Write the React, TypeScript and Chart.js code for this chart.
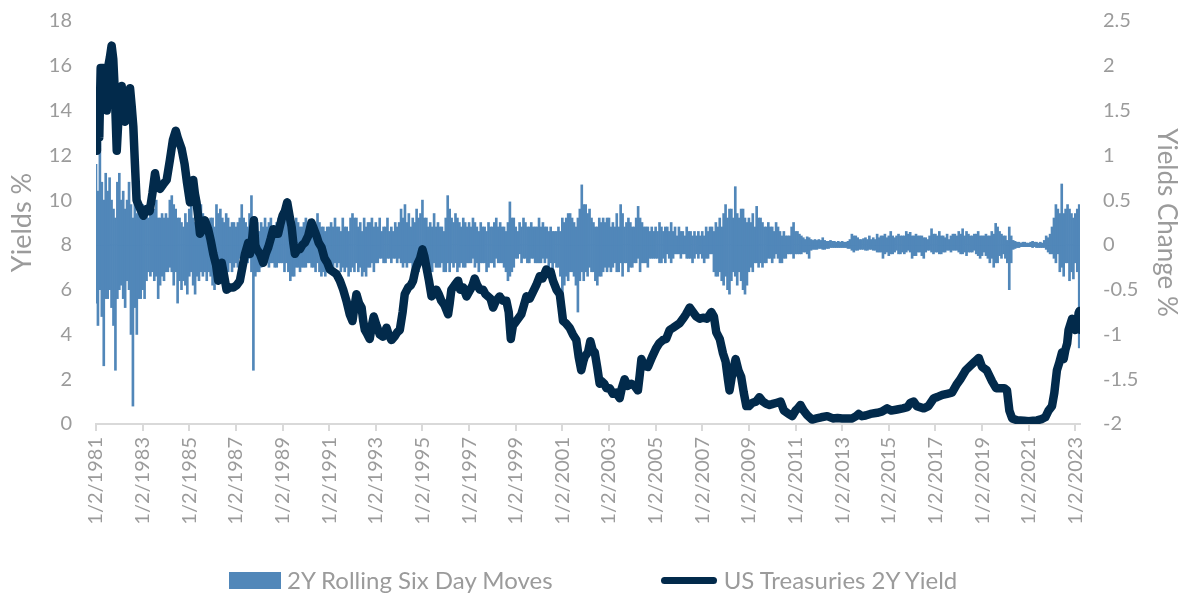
import React, { useEffect, useRef } from "react";
import { Chart, registerables } from "chart.js";

Chart.register(...registerables);

// X axis tick labels (category dates shown every two years)
const xTickLabels = [
  "1/2/1981", "1/2/1983", "1/2/1985", "1/2/1987", "1/2/1989", "1/2/1991",
  "1/2/1993", "1/2/1995", "1/2/1997", "1/2/1999", "1/2/2001", "1/2/2003",
  "1/2/2005", "1/2/2007", "1/2/2009", "1/2/2011", "1/2/2013", "1/2/2015",
  "1/2/2017", "1/2/2019", "1/2/2021", "1/2/2023",
];

// US Treasuries 2Y yield (%), dates as decimal years
const yieldDates = [
  1981.00,1981.04,1981.10,1981.14,1981.20,1981.31,1981.38,1981.46,1981.53,1981.60,1981.67,1981.74,1981.80,1981.89,1981.96,
  1982.03,1982.10,1982.17,1982.24,1982.31,1982.38,1982.46,1982.53,1982.60,1982.67,1982.74,1982.82,1982.90,
  1983.03,1983.15,1983.30,1983.42,1983.53,1983.63,1983.74,1983.88,
  1984.03,1984.17,1984.30,1984.42,1984.50,1984.60,1984.67,1984.80,1984.90,
  1985.03,1985.10,1985.17,1985.24,1985.31,1985.39,1985.46,1985.57,1985.67,1985.81,1985.92,
  1986.03,1986.15,1986.24,1986.32,1986.39,1986.50,1986.60,1986.75,1986.89,
  1987.03,1987.17,1987.28,1987.39,1987.53,1987.60,1987.70,1987.77,1987.83,1987.90,
  1988.03,1988.17,1988.28,1988.39,1988.50,1988.60,1988.70,1988.81,1988.90,
  1989.00,1989.10,1989.20,1989.30,1989.39,1989.46,1989.53,1989.64,1989.74,1989.85,1989.96,
  1990.10,1990.24,1990.35,1990.46,1990.55,1990.67,1990.80,1990.92,
  1991.03,1991.17,1991.31,1991.46,1991.60,1991.74,1991.88,
  1992.00,1992.08,1992.17,1992.28,1992.39,1992.46,1992.53,1992.64,1992.74,1992.83,1992.91,
  1993.03,1993.17,1993.31,1993.46,1993.55,1993.67,1993.80,1993.92,
  1994.03,1994.15,1994.24,1994.39,1994.50,1994.60,1994.70,1994.81,1994.90,
  1995.00,1995.08,1995.17,1995.28,1995.39,1995.50,1995.60,1995.70,1995.81,1995.95,
  1996.10,1996.17,1996.24,1996.38,1996.53,1996.62,1996.75,1996.89,
  1997.05,1997.15,1997.24,1997.35,1997.46,1997.60,1997.70,1997.81,1997.92,
  1998.03,1998.15,1998.31,1998.45,1998.60,1998.70,1998.79,1998.88,1998.96,
  1999.10,1999.24,1999.35,1999.46,1999.60,1999.74,1999.88,
  2000.03,2000.15,2000.31,2000.40,2000.50,2000.60,2000.75,2000.89,2000.96,
  2001.03,2001.15,2001.31,2001.45,2001.60,2001.70,2001.81,2001.90,2001.96,
  2002.10,2002.20,2002.30,2002.39,2002.50,2002.60,2002.70,2002.80,2002.89,
  2003.03,2003.17,2003.30,2003.46,2003.55,2003.67,2003.80,2003.96,
  2004.10,2004.24,2004.32,2004.39,2004.50,2004.67,2004.85,
  2005.03,2005.15,2005.31,2005.45,2005.60,2005.75,2005.89,
  2006.03,2006.17,2006.30,2006.46,2006.60,2006.74,2006.89,
  2007.03,2007.20,2007.39,2007.50,2007.60,2007.75,2007.89,
  2008.00,2008.10,2008.17,2008.28,2008.43,2008.55,2008.67,2008.78,2008.89,
  2009.00,2009.15,2009.31,2009.45,2009.60,2009.74,2009.88,
  2010.03,2010.20,2010.36,2010.50,2010.70,2010.86,
  2011.00,2011.10,2011.21,2011.35,2011.50,2011.71,2011.90,
  2012.10,2012.36,2012.60,2012.80,
  2013.00,2013.20,2013.43,2013.60,2013.71,2013.85,
  2014.00,2014.21,2014.50,2014.70,2014.93,
  2015.10,2015.36,2015.60,2015.80,2015.93,
  2016.07,2016.20,2016.50,2016.70,2016.93,
  2017.07,2017.30,2017.50,2017.71,2017.90,
  2018.07,2018.30,2018.50,2018.70,2018.86,
  2019.00,2019.20,2019.43,2019.60,2019.79,2019.95,
  2020.07,2020.17,2020.29,2020.50,2020.79,
  2021.00,2021.20,2021.36,2021.55,2021.71,2021.85,
  2022.00,2022.10,2022.21,2022.30,2022.43,2022.50,2022.57,2022.65,2022.71,2022.80,2022.86,2022.95,
  2023.00,2023.07,2023.14,2023.18,2023.22,2023.24,
];
const yieldValues = [
  12.2,14.4,14.3,12.8,15.9,15.9,15.2,14.0,16.0,16.4,16.9,16.3,15.0,12.2,13.6,
  14.6,15.1,14.2,13.5,14.0,14.4,15.0,14.2,13.3,11.6,10.0,9.8,9.6,
  9.3,9.6,9.5,10.3,11.2,10.6,10.5,10.7,
  10.9,11.8,12.7,13.1,12.8,12.5,12.3,11.6,10.8,
  9.9,10.4,10.9,10.3,9.9,9.2,8.5,8.7,9.1,8.7,8.2,
  7.6,7.1,6.4,6.7,7.2,6.6,6.0,6.1,6.1,
  6.2,6.4,7.0,7.6,8.1,7.6,8.3,9.1,8.0,7.8,
  7.6,7.2,7.6,7.9,8.3,8.7,8.5,8.5,8.9,
  9.3,9.5,9.9,9.3,8.8,8.1,7.6,7.8,7.8,8.0,8.1,
  8.4,9.0,8.7,8.4,8.1,7.9,7.4,7.2,
  6.9,6.8,6.7,6.4,6.0,5.5,4.9,
  4.6,5.2,5.8,5.4,5.2,4.6,4.2,4.0,3.8,4.4,4.8,
  4.4,4.0,3.9,4.3,4.0,3.75,3.9,4.1,
  4.2,5.0,5.8,6.1,6.2,6.4,6.9,7.2,7.4,
  7.8,7.5,7.0,6.4,5.7,5.8,6.0,5.8,5.5,5.3,
  4.9,5.4,6.0,6.2,6.4,6.0,6.1,5.7,
  6.0,6.2,6.5,6.2,6.0,6.0,5.8,5.7,5.6,
  5.2,5.5,5.7,5.5,5.5,5.0,3.8,4.4,4.5,
  4.7,4.9,5.3,5.7,5.6,5.9,6.2,
  6.6,6.5,6.9,6.7,6.8,6.4,6.0,5.8,5.2,
  4.6,4.5,4.3,4.0,3.75,3.0,2.4,2.8,3.0,
  3.2,3.7,3.3,3.2,2.5,1.8,1.9,1.8,1.6,
  1.6,1.35,1.4,1.15,1.6,2.0,1.7,1.8,
  1.7,1.5,2.2,2.9,2.6,2.55,3.0,
  3.4,3.6,3.75,3.8,4.2,4.3,4.4,
  4.5,4.7,4.9,5.2,5.0,4.8,4.7,
  4.75,4.7,5.0,4.8,4.1,3.8,3.15,
  2.8,2.0,1.5,2.2,2.9,2.4,2.1,1.4,0.8,
  0.8,0.95,1.0,1.2,1.0,0.9,0.85,
  0.9,0.95,1.0,0.6,0.45,0.35,
  0.6,0.7,0.85,0.6,0.4,0.2,0.25,
  0.3,0.35,0.25,0.27,
  0.25,0.25,0.25,0.35,0.45,0.35,
  0.38,0.45,0.5,0.55,0.7,
  0.6,0.65,0.7,0.75,0.95,
  1.0,0.8,0.7,0.8,1.15,
  1.2,1.3,1.35,1.4,1.75,
  2.0,2.4,2.6,2.8,2.95,
  2.55,2.4,1.9,1.6,1.6,1.6,
  1.5,0.6,0.25,0.17,0.15,
  0.12,0.15,0.16,0.22,0.3,0.6,
  0.8,1.4,2.4,2.7,3.2,2.9,3.3,3.6,4.2,4.5,4.7,4.4,
  4.2,4.3,4.95,5.05,4.2,3.9,
];

// 2Y rolling six-day moves (% change): largest rise and largest fall in each month, from Jan 1981
const rises1980s = [
  0.9,0.6,1.15,0.7,0.5,0.8,0.6,0.75,0.5,0.4,0.3,0.7,
  0.8,0.5,0.6,0.4,0.5,0.7,0.45,0.3,0.5,0.35,0.55,0.4,
  0.45,0.35,0.4,0.3,0.55,0.65,0.4,0.5,0.3,0.3,0.35,0.3,
  0.35,0.3,0.5,0.55,0.45,0.4,0.3,0.3,0.25,0.2,0.35,0.25,
  0.4,0.5,0.3,0.25,0.35,0.3,0.45,0.35,0.3,0.25,0.25,0.3,
  0.3,0.2,0.45,0.35,0.4,0.3,0.25,0.35,0.3,0.2,0.25,0.25,
  0.2,0.25,0.3,0.45,0.3,0.25,0.2,0.35,0.55,0.3,0.3,0.25,
  0.15,0.25,0.2,0.3,0.2,0.25,0.3,0.2,0.2,0.25,0.3,0.2,
  0.25,0.3,0.35,0.2,0.15,0.2,0.15,0.3,0.25,0.2,0.2,0.25,
];
const falls1980s = [
  -0.65,-0.9,-0.5,-0.8,-1.35,-0.6,-0.6,-0.5,-0.7,-0.9,-1.4,-0.6,
  -0.5,-0.45,-0.6,-0.7,-0.4,-0.5,-1.0,-1.8,-0.7,-1.0,-0.6,-0.6,
  -0.5,-0.6,-0.4,-0.3,-0.35,-0.3,-0.4,-0.35,-0.6,-0.45,-0.35,-0.4,
  -0.3,-0.3,-0.25,-0.3,-0.45,-0.3,-0.65,-0.4,-0.5,-0.4,-0.45,-0.55,
  -0.35,-0.3,-0.45,-0.55,-0.35,-0.4,-0.3,-0.35,-0.3,-0.4,-0.3,-0.35,
  -0.45,-0.5,-0.3,-0.35,-0.25,-0.3,-0.35,-0.35,-0.3,-0.2,-0.3,-0.25,
  -0.2,-0.25,-0.15,-0.2,-0.3,-0.2,-0.2,-0.15,-0.3,-1.4,-0.35,-0.3,
  -0.3,-0.25,-0.2,-0.15,-0.2,-0.25,-0.2,-0.2,-0.25,-0.25,-0.2,-0.2,
  -0.2,-0.3,-0.2,-0.3,-0.4,-0.35,-0.35,-0.25,-0.25,-0.3,-0.25,-0.25,
];
const rises1990s = [
  0.3,0.2,0.25,0.2,0.2,0.15,0.35,0.25,0.2,0.2,0.15,0.2,
  0.2,0.25,0.2,0.3,0.2,0.2,0.15,0.3,0.2,0.2,0.15,0.3,
  0.35,0.3,0.3,0.2,0.25,0.15,0.3,0.2,0.25,0.25,0.3,0.2,
  0.25,0.2,0.3,0.15,0.2,0.2,0.3,0.15,0.2,0.15,0.25,0.2,
  0.25,0.4,0.3,0.45,0.25,0.35,0.2,0.3,0.25,0.4,0.3,0.35,
  0.5,0.3,0.3,0.2,0.25,0.2,0.35,0.2,0.25,0.2,0.2,0.15,
  0.3,0.55,0.4,0.3,0.25,0.35,0.3,0.25,0.2,0.3,0.25,0.2,
  0.25,0.2,0.3,0.25,0.2,0.15,0.25,0.2,0.2,0.15,0.25,0.2,
  0.2,0.25,0.3,0.2,0.25,0.2,0.2,0.15,0.25,0.48,0.3,0.3,
  0.2,0.15,0.25,0.2,0.3,0.25,0.2,0.2,0.25,0.2,0.2,0.2,
];
const falls1990s = [
  -0.25,-0.2,-0.2,-0.25,-0.25,-0.3,-0.2,-0.3,-0.35,-0.3,-0.35,-0.3,
  -0.3,-0.2,-0.25,-0.2,-0.25,-0.2,-0.3,-0.25,-0.3,-0.25,-0.35,-0.3,
  -0.25,-0.3,-0.2,-0.3,-0.25,-0.35,-0.3,-0.35,-0.25,-0.25,-0.2,-0.3,
  -0.2,-0.2,-0.15,-0.15,-0.2,-0.2,-0.15,-0.15,-0.2,-0.15,-0.15,-0.2,
  -0.15,-0.2,-0.25,-0.2,-0.25,-0.2,-0.2,-0.25,-0.2,-0.2,-0.3,-0.2,
  -0.2,-0.3,-0.25,-0.35,-0.3,-0.3,-0.2,-0.25,-0.25,-0.25,-0.2,-0.3,
  -0.3,-0.2,-0.3,-0.2,-0.25,-0.2,-0.3,-0.25,-0.2,-0.25,-0.25,-0.2,
  -0.2,-0.2,-0.15,-0.25,-0.2,-0.3,-0.2,-0.2,-0.2,-0.3,-0.25,-0.2,
  -0.2,-0.25,-0.15,-0.2,-0.2,-0.2,-0.25,-0.3,-0.4,-0.35,-0.3,-0.25,
  -0.15,-0.15,-0.1,-0.2,-0.15,-0.15,-0.2,-0.2,-0.15,-0.15,-0.2,-0.2,
];
const rises2000s = [
  0.3,0.2,0.25,0.2,0.2,0.15,0.2,0.15,0.15,0.15,0.2,0.15,
  0.3,0.25,0.3,0.35,0.35,0.3,0.25,0.2,0.3,0.4,0.67,0.45,
  0.45,0.35,0.4,0.3,0.25,0.2,0.2,0.3,0.25,0.3,0.25,0.3,
  0.3,0.2,0.25,0.2,0.35,0.2,0.45,0.35,0.2,0.25,0.3,0.25,
  0.2,0.2,0.3,0.43,0.3,0.25,0.2,0.2,0.2,0.15,0.2,0.15,
  0.2,0.15,0.25,0.2,0.15,0.2,0.2,0.15,0.25,0.15,0.2,0.1,
  0.2,0.15,0.15,0.1,0.2,0.15,0.15,0.1,0.15,0.1,0.15,0.1,
  0.15,0.1,0.2,0.15,0.2,0.2,0.15,0.25,0.2,0.3,0.2,0.35,
  0.45,0.3,0.4,0.4,0.3,0.65,0.35,0.3,0.4,0.4,0.3,0.25,
  0.3,0.25,0.35,0.2,0.43,0.3,0.3,0.25,0.2,0.2,0.25,0.2,
];
const falls2000s = [
  -0.2,-0.2,-0.15,-0.2,-0.15,-0.25,-0.2,-0.3,-0.2,-0.25,-0.25,-0.35,
  -0.6,-0.45,-0.35,-0.4,-0.3,-0.3,-0.35,-0.45,-0.75,-0.4,-0.3,-0.4,
  -0.3,-0.35,-0.25,-0.3,-0.3,-0.4,-0.45,-0.35,-0.35,-0.3,-0.25,-0.3,
  -0.25,-0.3,-0.25,-0.2,-0.3,-0.3,-0.2,-0.35,-0.2,-0.2,-0.3,-0.25,
  -0.25,-0.2,-0.2,-0.15,-0.3,-0.2,-0.2,-0.2,-0.25,-0.15,-0.15,-0.15,
  -0.15,-0.15,-0.2,-0.2,-0.15,-0.2,-0.1,-0.15,-0.2,-0.15,-0.1,-0.1,
  -0.1,-0.15,-0.1,-0.1,-0.15,-0.15,-0.15,-0.2,-0.15,-0.1,-0.15,-0.1,
  -0.15,-0.2,-0.15,-0.15,-0.1,-0.1,-0.3,-0.35,-0.35,-0.3,-0.4,-0.45,
  -0.35,-0.5,-0.55,-0.4,-0.3,-0.35,-0.45,-0.3,-0.4,-0.5,-0.55,-0.45,
  -0.3,-0.25,-0.3,-0.2,-0.2,-0.25,-0.2,-0.25,-0.2,-0.2,-0.15,-0.15,
];
const rises2010s = [
  0.2,0.15,0.25,0.2,0.15,0.1,0.15,0.1,0.1,0.1,0.2,0.25,
  0.15,0.15,0.12,0.1,0.08,0.06,0.09,0.08,0.06,0.05,0.06,0.05,
  0.06,0.05,0.08,0.05,0.04,0.04,0.05,0.04,0.04,0.03,0.04,0.03,
  0.04,0.03,0.03,0.04,0.06,0.12,0.1,0.1,0.08,0.06,0.06,0.07,
  0.08,0.06,0.1,0.06,0.08,0.06,0.12,0.08,0.1,0.1,0.12,0.08,
  0.1,0.15,0.1,0.08,0.1,0.12,0.1,0.1,0.1,0.15,0.12,0.14,
  0.1,0.1,0.12,0.1,0.1,0.1,0.08,0.08,0.06,0.1,0.18,0.12,
  0.12,0.1,0.15,0.1,0.1,0.08,0.12,0.06,0.1,0.12,0.12,0.1,
  0.15,0.12,0.18,0.1,0.15,0.12,0.1,0.1,0.12,0.12,0.15,0.1,
  0.1,0.1,0.12,0.1,0.1,0.15,0.12,0.24,0.2,0.15,0.12,0.1,
];
const falls2010s = [
  -0.2,-0.15,-0.1,-0.15,-0.2,-0.2,-0.15,-0.15,-0.1,-0.1,-0.1,-0.15,
  -0.1,-0.1,-0.1,-0.1,-0.08,-0.08,-0.1,-0.15,-0.06,-0.05,-0.05,-0.05,
  -0.04,-0.04,-0.05,-0.05,-0.04,-0.04,-0.03,-0.03,-0.03,-0.03,-0.03,-0.03,
  -0.03,-0.03,-0.03,-0.04,-0.04,-0.06,-0.08,-0.06,-0.06,-0.05,-0.05,-0.05,
  -0.06,-0.06,-0.05,-0.05,-0.06,-0.06,-0.08,-0.08,-0.08,-0.15,-0.1,-0.08,
  -0.12,-0.1,-0.1,-0.08,-0.06,-0.1,-0.1,-0.08,-0.1,-0.08,-0.06,-0.08,
  -0.15,-0.12,-0.12,-0.08,-0.08,-0.12,-0.15,-0.08,-0.06,-0.06,-0.08,-0.1,
  -0.08,-0.08,-0.1,-0.1,-0.08,-0.08,-0.06,-0.06,-0.08,-0.06,-0.06,-0.06,
  -0.08,-0.1,-0.1,-0.08,-0.12,-0.08,-0.08,-0.08,-0.06,-0.1,-0.12,-0.15,
  -0.12,-0.08,-0.12,-0.15,-0.2,-0.15,-0.25,-0.2,-0.2,-0.12,-0.15,-0.1,
];
const rises2020s = [
  0.1,0.05,0.2,0.1,0.05,0.04,0.03,0.03,0.02,0.03,0.03,0.02,
  0.02,0.03,0.04,0.03,0.03,0.02,0.03,0.02,0.05,0.1,0.08,0.12,
  0.2,0.3,0.45,0.4,0.35,0.68,0.35,0.4,0.45,0.4,0.35,0.3,
  0.35,0.4,0.45,
];
const falls2020s = [
  -0.15,-0.2,-0.5,-0.2,-0.05,-0.04,-0.03,-0.03,-0.02,-0.02,-0.02,-0.02,
  -0.02,-0.02,-0.03,-0.02,-0.03,-0.03,-0.03,-0.03,-0.03,-0.05,-0.08,-0.1,
  -0.1,-0.15,-0.2,-0.1,-0.3,-0.25,-0.35,-0.2,-0.2,-0.4,-0.3,-0.38,
  -0.2,-0.3,-1.15,
];

const NAVY = "#022a4b";
const BLUE = "#5187b9";
const GRAY = "#9b9b9b";
const FONT = "Lato, 'Open Sans', sans-serif";

export default function App() {
  const ref = useRef<HTMLCanvasElement>(null);

  useEffect(() => {
    const rises = [...rises1980s, ...rises1990s, ...rises2000s, ...rises2010s, ...rises2020s];
    const falls = [...falls1980s, ...falls1990s, ...falls2000s, ...falls2010s, ...falls2020s];
    const riseData = rises.map((v, i) => ({ x: 1981 + i / 12, y: v }));
    const fallData = falls.map((v, i) => ({ x: 1981 + i / 12, y: v }));
    const lineData = yieldDates.map((d, i) => ({ x: d, y: yieldValues[i] }));
    const tickYears = xTickLabels.map((l) => Number(l.split("/")[2]));

    const barCommon = {
      type: "bar",
      yAxisID: "y1",
      backgroundColor: BLUE,
      borderWidth: 0,
      barThickness: 2,
      grouped: false,
      order: 1,
    };

    const chart = new Chart(ref.current as HTMLCanvasElement, {
      type: "bar",
      data: {
        datasets: [
          {
            type: "line",
            label: "US Treasuries 2Y Yield",
            data: lineData as any,
            yAxisID: "y",
            borderColor: NAVY,
            backgroundColor: NAVY,
            borderWidth: 8.5,
            pointRadius: 0,
            borderJoinStyle: "round",
            borderCapStyle: "round",
            tension: 0,
            order: 0,
          } as any,
          { ...barCommon, label: "2Y Rolling Six Day Moves", data: riseData } as any,
          { ...barCommon, label: "2Y Rolling Six Day Moves (falls)", data: fallData } as any,
        ],
      },
      options: {
        animation: false,
        responsive: false,
        maintainAspectRatio: false,
        layout: { padding: { top: 21, left: 0, right: 0, bottom: 0 } },
        plugins: { legend: { display: false }, tooltip: { enabled: false } },
        scales: {
          x: {
            type: "linear",
            min: 1981,
            max: 2023.2,
            offset: false,
            grid: {
              display: true,
              drawOnChartArea: false,
              drawTicks: true,
              tickLength: 7,
              color: "#d9d9d9",
              lineWidth: 2,
              offset: false,
            },
            border: { display: true, color: "#d9d9d9", width: 2 },
            ticks: {
              autoSkip: false,
              minRotation: 90,
              maxRotation: 90,
              padding: 6,
              color: GRAY,
              font: { family: FONT, size: 20 },
              callback: (v: any) => {
                const idx = tickYears.indexOf(Number(v));
                return idx >= 0 ? xTickLabels[idx] : "";
              },
            },
            afterBuildTicks: (s: any) => {
              s.ticks = tickYears.map((v) => ({ value: v }));
            },
            afterFit: (s: any) => {
              s.height = 171;
              s.paddingLeft = 0;
              s.paddingRight = 0;
            },
          } as any,
          y: {
            position: "left",
            min: 0,
            max: 18,
            ticks: { stepSize: 2, padding: 24, color: GRAY, font: { family: FONT, size: 20 } },
            grid: { display: false, drawTicks: false },
            border: { display: false },
            title: {
              display: true,
              text: "Yields %",
              color: GRAY,
              font: { family: FONT, size: 27 },
              padding: { top: 6, bottom: 0 },
            },
            afterFit: (s: any) => {
              s.width = 96;
              s.paddingTop = 0;
              s.paddingBottom = 0;
            },
          } as any,
          y1: {
            position: "right",
            min: -2,
            max: 2.5,
            ticks: {
              stepSize: 0.5,
              padding: 23,
              color: GRAY,
              font: { family: FONT, size: 20 },
              callback: (v: any) => String(Math.round(Number(v) * 10) / 10),
            },
            grid: { display: false, drawTicks: false },
            border: { display: false },
            title: {
              display: true,
              text: "Yields Change %",
              color: GRAY,
              font: { family: FONT, size: 26 },
              padding: { top: 3, bottom: 0 },
            },
            afterFit: (s: any) => {
              s.width = 105;
              s.paddingTop = 0;
              s.paddingBottom = 0;
            },
          } as any,
        },
      },
    });
    return () => chart.destroy();
  }, []);

  return (
    <div style={{ position: "fixed", left: 0, top: 0, width: 1185, height: 595, background: "#fff" }}>
      <canvas ref={ref} width={1185} height={595} style={{ width: 1185, height: 595, display: "block" }} />
      <div
        style={{
          position: "absolute",
          top: 566,
          left: 229,
          display: "flex",
          alignItems: "center",
          fontFamily: FONT,
          fontSize: 24,
          color: GRAY,
          lineHeight: "28px",
          whiteSpace: "nowrap",
        }}
      >
        <span style={{ display: "inline-block", width: 52, height: 17, background: BLUE, marginRight: 6 }} />
        <span>2Y Rolling Six Day Moves</span>
        <span
          style={{
            display: "inline-block",
            width: 56,
            height: 7,
            borderRadius: 4,
            background: NAVY,
            marginLeft: 108,
            marginRight: 7,
          }}
        />
        <span>US Treasuries 2Y Yield</span>
      </div>
    </div>
  );
}
